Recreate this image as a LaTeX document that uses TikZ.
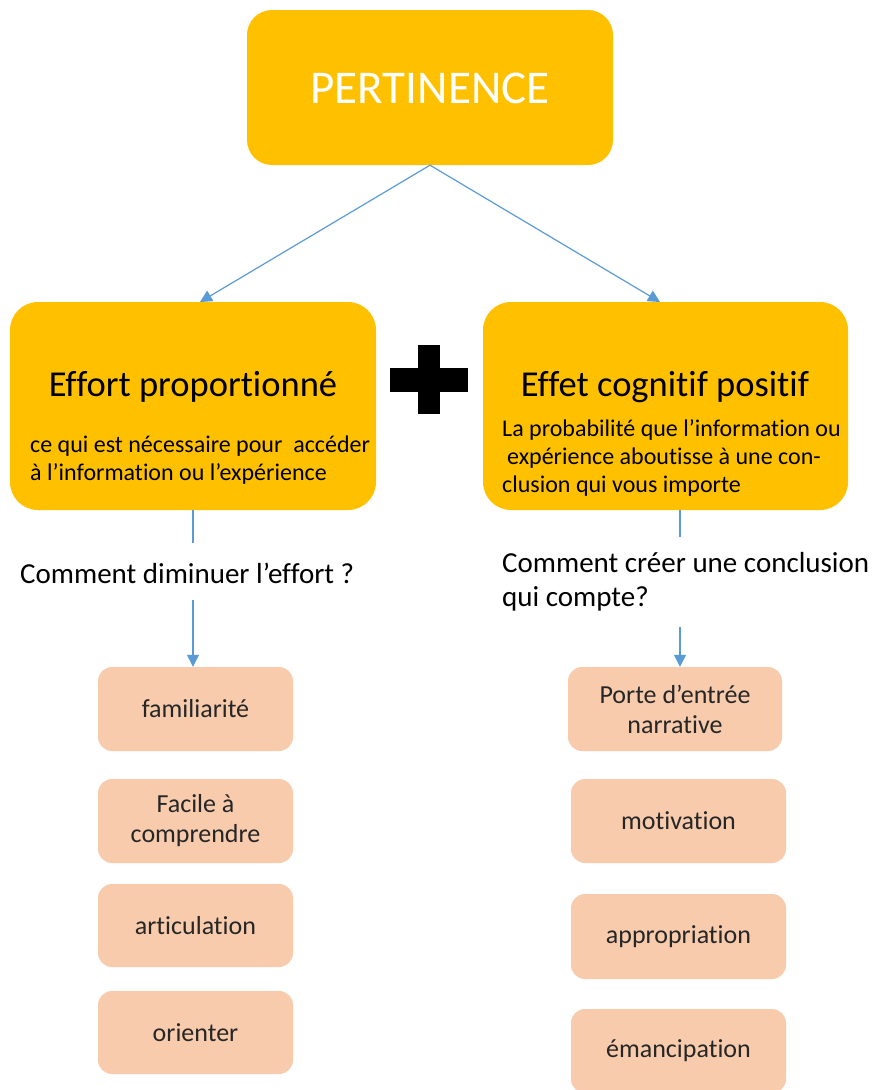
\documentclass[tikz,border=0pt]{standalone}
\usepackage{fontspec}
\setmainfont[Ligatures={NoCommon}]{Carlito}
\usetikzlibrary{arrows.meta}
\definecolor{gold}{HTML}{FFC000}
\definecolor{peach}{HTML}{F8CBAD}
\definecolor{lineblue}{HTML}{5B9BD5}
\tikzset{
  bigbox/.style={fill=gold, draw=none, rounded corners=28pt, inner sep=0pt},
  smallbox/.style={fill=peach, draw=none, rounded corners=14pt, inner sep=0pt, align=center,
    font=\fontsize{26}{30}\selectfont, text=black!85},
  conn/.style={draw=lineblue, line width=1.2pt},
  arr/.style={conn, -{Triangle[width=12pt,length=12pt]}},
  titletext/.style={font=\fontsize{36.5}{44}\selectfont, anchor=base, inner sep=0pt},
  subtext/.style={font=\fontsize{24}{28}\selectfont, anchor=base west, inner sep=0pt},
  question/.style={font=\fontsize{29}{34}\selectfont, anchor=base west, inner sep=0pt},
}
\begin{document}
\begin{tikzpicture}[x=1pt, y=-1pt]
\useasboundingbox (0,0) rectangle (875,1090);
% top box
\node[bigbox, minimum width=366pt, minimum height=155pt, rounded corners=25pt] (top) at (430,87.5) {};
\node[font=\fontsize{47}{56}\selectfont, text=white, anchor=base, inner sep=0pt] (toplbl) at (430,103) {PERTINENCE};
% two main boxes
\node[bigbox, minimum width=366pt, minimum height=208pt] (left) at (193,406) {};
\node[bigbox, minimum width=365pt, minimum height=208pt] (right) at (665.5,406) {};
\coordinate (ltop) at (200,302);
\coordinate (rtop) at (660,302);
\draw[arr] (top.south) -- (ltop);
\draw[arr] (top.south) -- (rtop);
% texts in left box
\node[titletext] (ltitle) at (193,396) {Effort proportionné};
\node[subtext] (lsub1) at (30,452) {ce qui est nécessaire pour \ accéder};
\node[subtext] (lsub2) at (30,480) {à l’information ou l’expérience};
% texts in right box
\node[titletext] (rtitle) at (665,396) {Effet cognitif positif};
\node[subtext] (rsub1) at (502,436) {La probabilité que l’information ou};
\node[subtext] (rsub2) at (507,464) {expérience aboutisse à une con-};
\node[subtext] (rsub3) at (502,492) {clusion qui vous importe};
% plus sign
\fill[black] (418,345) rectangle (440,414);
\fill[black] (390,368) rectangle (468,392);
% questions
\node[question] (lq) at (20,583) {Comment diminuer l’effort ?};
\node[question] (rq1) at (502,572) {Comment créer une conclusion};
\node[question] (rq2) at (502,606) {qui compte?};
% small boxes left
\node[smallbox, minimum width=195pt, minimum height=84pt] (l1) at (195.5,709) {familiarité};
\node[smallbox, minimum width=195pt, minimum height=84pt] (l2) at (195.5,821) {Facile à\\comprendre};
\node[smallbox, minimum width=195pt, minimum height=83pt] (l3) at (195.5,925.5) {articulation};
\node[smallbox, minimum width=195pt, minimum height=83pt] (l4) at (195.5,1032.5) {orienter};
% small boxes right
\node[smallbox, minimum width=214pt, minimum height=84pt] (r1) at (675,709) {Porte d’entrée\\narrative};
\node[smallbox, minimum width=215pt, minimum height=84pt] (r2) at (678.5,821) {motivation};
\node[smallbox, minimum width=215pt, minimum height=85pt] (r3) at (678.5,936.5) {appropriation};
\node[smallbox, minimum width=215pt, minimum height=84pt] (r4) at (678.5,1051) {émancipation};
% connectors
\coordinate (lq1) at (193,543);
\coordinate (lq2) at (193,600);
\coordinate (rq1a) at (680,537);
\coordinate (rq2a) at (680,627);
\draw[conn] (left.south -| lq1) -- (lq1);
\draw[arr] (lq2) -- (l1.north -| lq2);
\draw[conn] (right.south -| rq1a) -- (rq1a);
\draw[arr] (rq2a) -- (r1.north -| rq2a);
\end{tikzpicture}
\end{document}
